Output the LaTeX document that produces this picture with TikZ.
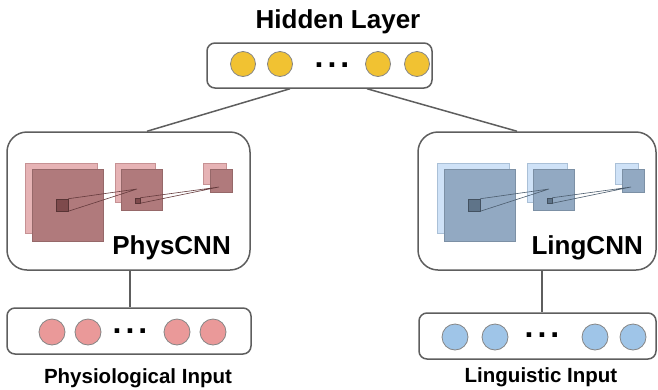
\documentclass[tikz,border=0pt]{standalone}
\usepackage{fontspec}
\setmainfont{Liberation Sans}
\usepackage{tikz}
\usetikzlibrary{positioning}
\usepackage{xcolor}
\definecolor{boxgray}{HTML}{5E5E5E}
\definecolor{unitgray}{HTML}{858585}
\definecolor{hiddenfill}{HTML}{F1C232}
\definecolor{physfill}{HTML}{EA9999}
\definecolor{lingfill}{HTML}{9FC5E8}
\definecolor{physlight}{HTML}{E6B3B5}
\definecolor{physdark}{HTML}{B07A7C}
\definecolor{physkern}{HTML}{7E4A4C}
\definecolor{linglight}{HTML}{CFE2F7}
\definecolor{lingdark}{HTML}{92A9C2}
\definecolor{lingkern}{HTML}{5F7489}

\tikzset{
  layerbox/.style={draw=boxgray, rectangle, line width=1.5pt, rounded corners=8pt, fill=white},
  cnnbox/.style={layerbox, rounded corners=20pt},
  unit/.style={draw=unitgray, circle, line width=0.8pt, minimum size=#1, inner sep=0pt},
  fmap/.style={rectangle, inner sep=0pt, line width=0.5pt},
  link/.style={draw=boxgray, line width=1.5pt},
  dots/.style={font=\fontsize{32}{32}\selectfont\bfseries, anchor=base, inner sep=0pt},
  title/.style={font=\fontsize{26}{30}\selectfont\bfseries, inner sep=0pt},
  caption/.style={font=\fontsize{20.5}{24}\selectfont\bfseries, anchor=base, inner sep=0pt}
}

\begin{document}
\begin{tikzpicture}[x=1pt, y=-1pt]
  \useasboundingbox (0,0) rectangle (658,389);
  % Boxes
  \node[layerbox, minimum width=225pt, minimum height=45pt] (hidden) at (319.5,65.5) {};
  \node[cnnbox, minimum width=243pt, minimum height=138pt] (physcnn) at (128.5,201) {};
  \node[cnnbox, minimum width=238pt, minimum height=138pt] (lingcnn) at (537,201) {};
  \node[layerbox, minimum width=244pt, minimum height=46pt] (physin) at (129,331) {};
  \node[layerbox, minimum width=237pt, minimum height=46pt] (lingin) at (537.5,336) {};
  % Labels
  \node[title, anchor=base] (hiddentitle) at (338,28) {Hidden Layer};
  \node[title, anchor=base east] (physname) at (231,254) {PhysCNN};
  \node[title, anchor=base east] (lingname) at (643,254) {LingCNN};
  \node[caption] (physcap) at (138,383) {Physiological Input};
  \node[caption] (lingcap) at (541,382) {Linguistic Input};
  % Units
  \node[unit=25pt, fill=hiddenfill] (h1) at (243,64) {};
  \node[unit=25pt, fill=hiddenfill] (h2) at (280,64) {};
  \node[dots] (hdots) at (332,67) {.\hspace{4pt}.\hspace{4pt}.};
  \node[unit=25pt, fill=hiddenfill] (h3) at (378,64) {};
  \node[unit=25pt, fill=hiddenfill] (h4) at (417,64) {};
  \node[unit=26pt, fill=physfill] (p1) at (52,332) {};
  \node[unit=26pt, fill=physfill] (p2) at (88,332) {};
  \node[dots] (pdots) at (130,333) {.\hspace{4pt}.\hspace{4pt}.};
  \node[unit=26pt, fill=physfill] (p3) at (177,332) {};
  \node[unit=26pt, fill=physfill] (p4) at (213,332) {};
  \node[unit=26pt, fill=lingfill] (l1) at (455,337) {};
  \node[unit=26pt, fill=lingfill] (l2) at (495,337) {};
  \node[dots] (ldots) at (542,337) {.\hspace{4pt}.\hspace{4pt}.};
  \node[unit=26pt, fill=lingfill] (l3) at (595,337) {};
  \node[unit=26pt, fill=lingfill] (l4) at (633,337) {};
  % Feature maps
  \foreach \side/\dx/\lt/\dk/\kn in {phys/0/physlight/physdark/physkern, ling/412/linglight/lingdark/lingkern} {
    \begin{scope}[xshift=\dx]
      \node[fmap, fill=\lt, draw=\dk!60!\lt, minimum width=72pt, minimum height=70pt] (\side-a1) at (61,198) {};
      \node[fmap, fill=\dk, draw=\dk!85!black, minimum width=71pt, minimum height=72pt] (\side-b1) at (67.5,205) {};
      \node[fmap, fill=\kn, draw=\kn!70!black, minimum size=12pt] (\side-k1) at (62,205) {};
      \node[fmap, fill=\lt, draw=\dk!60!\lt, minimum width=40pt, minimum height=39pt] (\side-a2) at (135,182.5) {};
      \node[fmap, fill=\dk, draw=\dk!85!black, minimum size=41pt] (\side-b2) at (141.5,189.5) {};
      \node[fmap, fill=\kn, draw=\kn!70!black, minimum size=5pt] (\side-k2) at (137.5,200.5) {};
      \node[fmap, fill=\lt, draw=\dk!60!\lt, minimum width=23pt, minimum height=21pt] (\side-a3) at (214.5,173.5) {};
      \node[fmap, fill=\dk, draw=\dk!85!black, minimum width=22pt, minimum height=23pt] (\side-b3) at (221,180.5) {};
      \coordinate (\side-t1) at (137,189);
      \coordinate (\side-t2) at (219,187);
      \draw[\kn!80!black, line width=0.6pt] (\side-k1.north east) -- (\side-t1) -- (\side-k1.south east);
      \draw[\kn!80!black, line width=0.6pt] (\side-k2.north east) -- (\side-t2) -- (\side-k2.south east);
    \end{scope}
  }
  % Connections
  \draw[link] ([xshift=-29.5pt]hidden.south) -- ([xshift=18.5pt]physcnn.north);
  \draw[link] ([xshift=47.5pt]hidden.south) -- ([xshift=-20pt]lingcnn.north);
  \draw[link] ([xshift=1.5pt]physcnn.south) -- ([xshift=1pt]physin.north);
  \draw[link] ([xshift=5pt]lingcnn.south) -- ([xshift=4.5pt]lingin.north);
\end{tikzpicture}
\end{document}
